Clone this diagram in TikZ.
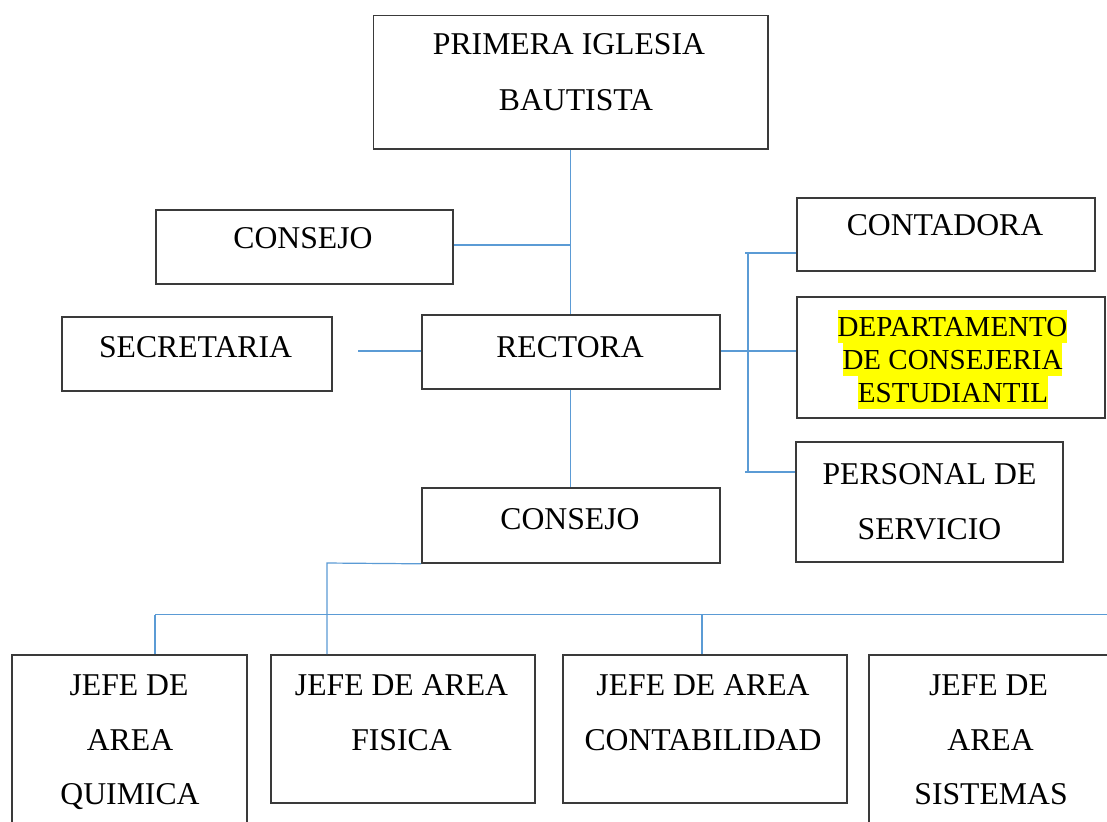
\documentclass[tikz,border=0pt]{standalone}
\usepackage{fontspec}
\setmainfont{Liberation Serif}
\usetikzlibrary{fit}
\definecolor{conn}{HTML}{5B9BD5}
\definecolor{boxline}{HTML}{3A3A3A}
\definecolor{hly}{HTML}{FFFF00}
\newcommand\hlx[1]{{\setlength{\fboxsep}{0pt}\colorbox{hly}{\rule[-3.3pt]{0pt}{16.5pt}#1}}}
\begin{document}
\begin{tikzpicture}[x=0.5pt,y=-0.5pt,
  box/.style={draw=boxline, line width=0.8pt, inner sep=0pt},
  txt/.style={inner sep=0pt, anchor=base, font=\fontsize{15.85pt}{19pt}\selectfont},
  stxt/.style={inner sep=0pt, anchor=base, font=\fontsize{14.5pt}{16.5pt}\selectfont},
  link/.style={draw=conn, line width=0.6pt}]
\clip (0,0) rectangle (1107,821);
\fill[white] (0,0) rectangle (1107,821);

% boxes
\node[box, fit={(373.5,15.5)(768,149)}] (top) {};
\node[box, fit={(156,210)(453,284)}] (consejoA) {};
\node[box, fit={(62,317)(332,391)}] (secretaria) {};
\node[box, fit={(422,315)(720,389)}] (rectora) {};
\node[box, fit={(797,198)(1095,271)}] (contadora) {};
\node[box, fit={(797,297)(1105,418)}] (depto) {};
\node[box, fit={(796,442)(1063,562)}] (personal) {};
\node[box, fit={(422,488)(720,563)}] (consejoB) {};
\node[box, fit={(12,655)(247,900)}] (quimica) {};
\node[box, fit={(271,655)(535,803)}] (fisica) {};
\node[box, fit={(563,655)(847,803)}] (contab) {};
\node[box, fit={(869,655)(1200,900)}] (sistemas) {};

% texts
\node[txt] (t1a) at (569,54) {PRIMERA IGLESIA};
\node[txt] (t1b) at (576,110) {BAUTISTA};
\node[txt] (t2) at (303,248.5) {CONSEJO};
\node[txt] (t3) at (195.5,357.5) {SECRETARIA};
\node[txt] (t4) at (570,357.5) {RECTORA};
\node[txt] (t5) at (945,235.5) {CONTADORA};
\node[stxt] (t6a) at (952.5,336.5) {\hlx{DEPARTAMENTO}};
\node[stxt] (t6b) at (952.5,369.5) {\hlx{DE CONSEJERIA}};
\node[stxt] (t6c) at (953,402.5) {\hlx{ESTUDIANTIL}};
\node[txt] (t7a) at (929.5,484.5) {PERSONAL DE};
\node[txt] (t7b) at (929.5,539) {SERVICIO};
\node[txt] (t8) at (570,529.5) {CONSEJO};
\node[txt] (t9a) at (129,695.5) {JEFE DE};
\node[txt] (t9b) at (130,750.5) {AREA};
\node[txt] (t9c) at (130,804.5) {QUIMICA};
\node[txt] (t10a) at (401.5,695.5) {JEFE DE AREA};
\node[txt] (t10b) at (401.5,750.5) {FISICA};
\node[txt] (t11a) at (703,695.5) {JEFE DE AREA};
\node[txt] (t11b) at (703,750.5) {CONTABILIDAD};
\node[txt] (t12a) at (988.5,695.5) {JEFE DE};
\node[txt] (t12b) at (990.5,750.5) {AREA};
\node[txt] (t12c) at (991,804.5) {SISTEMAS};

% connector coordinates
\coordinate (vx) at (570.5,0);
\coordinate (secend) at (358,351);
\coordinate (rs1) at (745,253);
\coordinate (rs2) at (745,472);
\coordinate (rv1) at (748,253);
\coordinate (rv2) at (748,472);
\coordinate (jx) at (327,563);
\coordinate (bl) at (155,614.5);
\coordinate (bm) at (702,614.5);
\coordinate (br) at (1110,614.5);

% connectors
\draw[link] (vx |- top.south) -- (vx |- rectora.north);
\draw[link] (consejoA.east) ++(0,-2) coordinate (ca) -- (ca -| vx);
\draw[link] (secend) -- (secend -| rectora.west);
\draw[link] (vx |- rectora.south) -- (vx |- consejoB.north);
\draw[link] (rectora.east) ++(0,-1) coordinate (re) -- (re -| depto.west);
\draw[link] (rs1) -- (rs1 -| contadora.west);
\draw[link] (rs2) -- (rs2 -| personal.west);
\draw[link] (rv1) -- (rv2);
\draw[link] (consejoB.south west) -- (jx) -- (jx |- fisica.north);
\draw[link] (bl) -- (br);
\draw[link] (bl) -- (bl |- quimica.north);
\draw[link] (bm) -- (bm |- contab.north);
\end{tikzpicture}
\end{document}
